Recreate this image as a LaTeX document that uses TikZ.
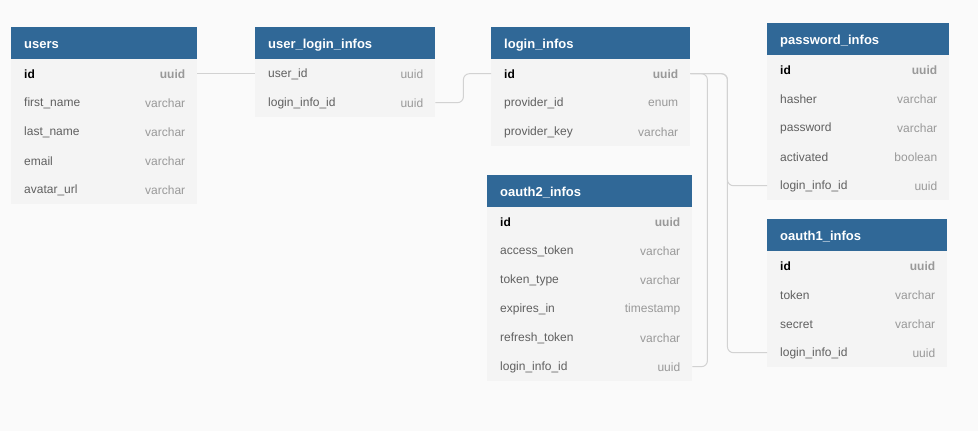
\documentclass[tikz,border=0pt]{standalone}
\usepackage{fontspec}
\setmainfont{Liberation Sans}
\definecolor{bg}{HTML}{FAFAFA}
\definecolor{hdrblue}{HTML}{306897}
\definecolor{body}{HTML}{F4F4F4}
\definecolor{conncol}{HTML}{D2D2D2}
\definecolor{namecol}{HTML}{606060}
\definecolor{typecol}{HTML}{999999}
\tikzset{
  hdr/.style={fill=hdrblue, draw=none, minimum height=32pt, inner sep=0pt, anchor=north west},
  hdrtext/.style={text=white, font=\fontsize{13}{15}\selectfont\bfseries, inner sep=0pt, anchor=west},
  rowbox/.style={fill=body, draw=none, minimum height=29pt, inner sep=0pt, anchor=north west},
  namep/.style={text=namecol, font=\fontsize{12}{14}\selectfont, inner sep=0pt, anchor=west},
  namek/.style={text=black, font=\fontsize{12}{14}\selectfont\bfseries, inner sep=0pt, anchor=west},
  typep/.style={text=typecol, font=\fontsize{12}{14}\selectfont, inner sep=0pt, anchor=east},
  typek/.style={text=typecol, font=\fontsize{12}{14}\selectfont\bfseries, inner sep=0pt, anchor=east},
  conn/.style={draw=conncol, line width=1pt, rounded corners=6pt}
}
% #1 name, #2 x, #3 y, #4 width, #5 title, #6 rows name/type/kind
\newcommand{\dbtable}[6]{%
  \node[hdr, minimum width=#4pt] (#1) at (#2,#3) {};
  \node[hdrtext] (#1-title) at ([xshift=13pt,yshift=-1.5pt]#1.west) {#5};
  \foreach [count=\i] \n/\t/\k in {#6} {
    \node[rowbox, minimum width=#4pt] (#1-\i) at (#2,#3+3+29*\i) {};
    \node[name\k] (#1-\i-n) at ([xshift=13pt,yshift=-1pt]#1-\i.west) {\n};
    \node[type\k] (#1-\i-t) at ([xshift=-12pt,yshift=-1pt]#1-\i.east) {\t};
  }%
}
\begin{document}
\begin{tikzpicture}[x=1pt,y=-1pt]
\fill[bg] (0,0) rectangle (978,431);
\useasboundingbox (0,0) rectangle (978,431);

\dbtable{users}{11}{27}{186}{users}{id/uuid/k, first\_name/varchar/p, last\_name/varchar/p, email/varchar/p, avatar\_url/varchar/p}
\dbtable{uli}{255}{27}{180}{user\_login\_infos}{user\_id/uuid/p, login\_info\_id/uuid/p}
\dbtable{li}{491}{27}{199}{login\_infos}{id/uuid/k, provider\_id/enum/p, provider\_key/varchar/p}
\dbtable{pw}{767}{23}{182}{password\_infos}{id/uuid/k, hasher/varchar/p, password/varchar/p, activated/boolean/p, login\_info\_id/uuid/p}
\dbtable{oa2}{487}{175}{205}{oauth2\_infos}{id/uuid/k, access\_token/varchar/p, token\_type/varchar/p, expires\_in/timestamp/p, refresh\_token/varchar/p, login\_info\_id/uuid/p}
\dbtable{oa1}{767}{219}{180}{oauth1\_infos}{id/uuid/k, token/varchar/p, secret/varchar/p, login\_info\_id/uuid/p}

\draw[conn] (users-1.east) -- (uli-1.west);
\draw[conn] (uli-2.east) -- ++(28,0) |- (li-1.west);
\draw[conn] (li-1.east) -- ++(17,0) |- (oa2-6.east);
\draw[conn] (li-1.east) -- ++(37,0) |- (pw-5.west);
\draw[conn] (li-1.east) -- ++(37,0) |- (oa1-4.west);
\end{tikzpicture}
\end{document}
